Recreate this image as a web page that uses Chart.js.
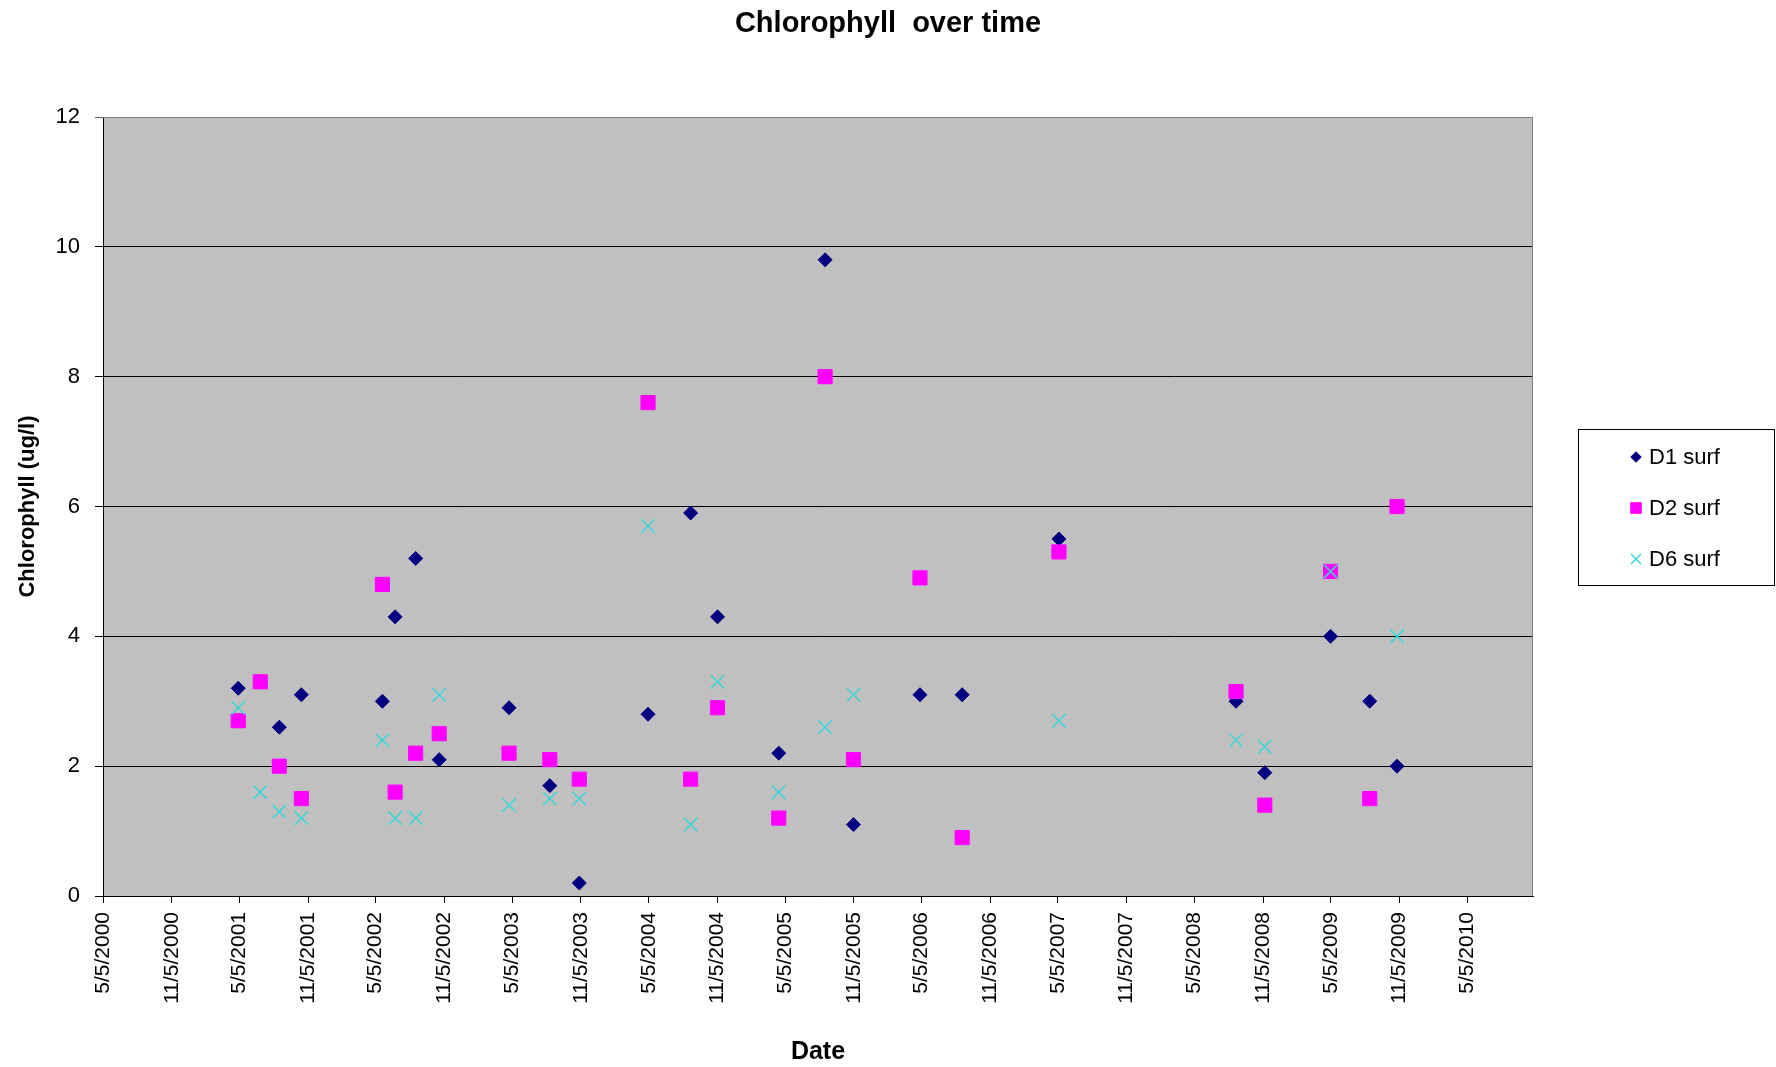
<!DOCTYPE html>
<html>
<head>
<meta charset="utf-8">
<script src="https://cdn.jsdelivr.net/npm/chart.js@4.4.1/dist/chart.umd.min.js"></script>
<style>
	body { margin: 0; background: #ffffff; }
	canvas { display: block; }
</style>
</head>
<body>
<canvas id="graficoClorofila" width="1776" height="1067"></canvas>
<script>
// Datas das coletas
var datasColeta = [
	"2001-05-02", "2001-06-30", "2001-08-20", "2001-10-18",
	"2002-05-23", "2002-06-26", "2002-08-20", "2002-10-22",
	"2003-04-27", "2003-08-14", "2003-11-01",
	"2004-05-03", "2004-08-25", "2004-11-05",
	"2005-04-18", "2005-08-20", "2005-11-04",
	"2006-05-01", "2006-08-22",
	"2007-05-08",
	"2008-08-24", "2008-11-09",
	"2009-05-04", "2009-08-17", "2009-10-29",
];

// Clorofila (ug/l) por estacao, null = sem medida
var d1Surf = [3.2, null, 2.6, 3.1, 3.0, 4.3, 5.2, 2.1, 2.9, 1.7, 0.2, 2.8, 5.9, 4.3, 2.2, 9.8, 1.1, 3.1, 3.1, 5.5, 3.0, 1.9, 4.0, 3.0, 2.0];
var d2Surf = [2.7, 3.3, 2.0, 1.5, 4.8, 1.6, 2.2, 2.5, 2.2, 2.1, 1.8, 7.6, 1.8, 2.9, 1.2, 8.0, 2.1, 4.9, 0.9, 5.3, 3.15, 1.4, 5.0, 1.5, 6.0];
var d6Surf = [2.9, 1.6, 1.3, 1.2, 2.4, 1.2, 1.2, 3.1, 1.4, 1.5, 1.5, 5.7, 1.1, 3.3, 1.6, 2.6, 3.1, null, null, 2.7, 2.4, 2.3, 5.0, null, 4.0];

var nomesSeries = ["D1 surf", "D2 surf", "D6 surf"];

// Rotulos do eixo X
var rotulosEixoX = [
	"5/5/2000", "11/5/2000", "5/5/2001", "11/5/2001", "5/5/2002", "11/5/2002",
	"5/5/2003", "11/5/2003", "5/5/2004", "11/5/2004", "5/5/2005", "11/5/2005",
	"5/5/2006", "11/5/2006", "5/5/2007", "11/5/2007", "5/5/2008", "11/5/2008",
	"5/5/2009", "11/5/2009", "5/5/2010",
];
var fimEixoX = "2010-10-28";

var fonte = "'Liberation Sans', Arial, sans-serif";
var inicio = Date.UTC(2000, 4, 5);

function diaIso(texto) {
	var p = texto.split("-");
	return (Date.UTC(+p[0], +p[1] - 1, +p[2]) - inicio) / 86400000;
}

function diaRotulo(texto) {
	var p = texto.split("/");
	return (Date.UTC(+p[2], +p[0] - 1, +p[1]) - inicio) / 86400000;
}

function rotuloDia(dia) {
	var d = new Date(inicio + dia * 86400000);
	return (d.getUTCMonth() + 1) + "/" + d.getUTCDate() + "/" + d.getUTCFullYear();
}

function montarPontos(valores) {
	var pontos = [];
	for (var i = 0; i < valores.length; i++) {
		if (valores[i] != null) {
			pontos.push({ x: diaIso(datasColeta[i]), y: valores[i] });
		}
	}
	return pontos;
}

// Fundo cinza e borda da area do grafico
var fundoPlugin = {
	id: "fundo",
	beforeDraw: function (chart) {
		var a = chart.chartArea;
		var ctx = chart.ctx;
		ctx.save();
		ctx.fillStyle = "#c0c0c0";
		ctx.fillRect(a.left, a.top, a.right - a.left, a.bottom - a.top);
		ctx.restore();
	},
	beforeDatasetsDraw: function (chart) {
		var a = chart.chartArea;
		var ctx = chart.ctx;
		ctx.save();
		ctx.strokeStyle = "#808080";
		ctx.lineWidth = 1;
		ctx.beginPath();
		ctx.moveTo(a.left, a.top + 0.5);
		ctx.lineTo(a.right - 0.5, a.top + 0.5);
		ctx.lineTo(a.right - 0.5, a.bottom);
		ctx.stroke();
		ctx.restore();
	},
};

// Legenda com caixa, desenhada a direita
var legendaPlugin = {
	id: "legendaCaixa",
	afterDraw: function (chart) {
		var ctx = chart.ctx;
		ctx.save();
		ctx.strokeStyle = "#000000";
		ctx.lineWidth = 1;
		ctx.strokeRect(1578.5, 429.5, 196, 156);

		var ys = [457, 508, 559];
		for (var i = 0; i < chart.data.datasets.length; i++) {
			var ds = chart.data.datasets[i];
			ctx.fillStyle = ds.backgroundColor;
			ctx.strokeStyle = ds.borderColor;
			ctx.lineWidth = ds.borderWidth;
			Chart.helpers.drawPoint(ctx, {
				pointStyle: ds.pointStyle,
				radius: ds.pointRadius * 0.75,
				borderWidth: ds.borderWidth,
				rotation: 0,
			}, 1636, ys[i]);

			ctx.fillStyle = "#000000";
			ctx.font = "22px " + fonte;
			ctx.textAlign = "left";
			ctx.textBaseline = "middle";
			ctx.fillText(ds.label, 1649, ys[i] + 1);
		}
		ctx.restore();
	},
};

var configClorofila = {
	type: "scatter",
	data: {
		datasets: [
			{
				label: nomesSeries[0],
				data: montarPontos(d1Surf),
				pointStyle: "rectRot",
				pointRadius: 7,
				backgroundColor: "#000080",
				borderColor: "#000080",
				borderWidth: 1,
				order: 3,
			},
			{
				label: nomesSeries[1],
				data: montarPontos(d2Surf),
				pointStyle: "rect",
				pointRadius: 10,
				backgroundColor: "#ff00ff",
				borderColor: "#ff00ff",
				borderWidth: 1,
				order: 2,
			},
			{
				label: nomesSeries[2],
				data: montarPontos(d6Surf),
				pointStyle: "crossRot",
				pointRadius: 9.5,
				backgroundColor: "#3cd6d6",
				borderColor: "#3cd6d6",
				borderWidth: 1.5,
				order: 1,
			},
		],
	},
	options: {
		responsive: false,
		animation: false,
		events: [],
		layout: {
			padding: 0,
		},
		plugins: {
			legend: { display: false },
			tooltip: { enabled: false },
			title: {
				display: true,
				text: "Chlorophyll  over time",
				color: "#000000",
				font: { family: fonte, size: 29, weight: "bold" },
				padding: { top: 7, bottom: 75.2 },
			},
		},
		scales: {
			x: {
				type: "linear",
				min: 0,
				max: diaIso(fimEixoX),
				afterFit: function (scale) {
					scale.height = 171;
				},
				afterBuildTicks: function (scale) {
					scale.ticks = rotulosEixoX.map(function (r) {
						return { value: diaRotulo(r) };
					});
				},
				ticks: {
					autoSkip: false,
					minRotation: 90,
					maxRotation: 90,
					padding: 9,
					color: "#000000",
					font: { family: fonte, size: 21 },
					callback: function (valor) {
						return rotuloDia(valor);
					},
				},
				grid: {
					drawOnChartArea: false,
					drawTicks: true,
					tickLength: 7,
					color: "#000000",
				},
				border: { display: true, color: "#000000", width: 1 },
				title: {
					display: true,
					text: "Date",
					color: "#000000",
					font: { family: fonte, size: 25, weight: "bold" },
					padding: { top: 0, bottom: 0 },
				},
			},
			y: {
				min: 0,
				max: 12,
				afterFit: function (scale) {
					scale.width = 103;
				},
				ticks: {
					stepSize: 2,
					padding: 15,
					color: "#000000",
					font: { family: fonte, size: 22 },
				},
				grid: {
					drawTicks: true,
					tickLength: 8,
					color: function (c) {
						return c.tick && c.tick.value == 12 ? "#606060" : "#000000";
					},
				},
				border: { display: true, color: "#000000", width: 1 },
				title: {
					display: true,
					text: "Chlorophyll (ug/l)",
					color: "#000000",
					font: { family: fonte, size: 22, weight: "bold" },
					padding: { top: 15, bottom: 0 },
				},
			},
			// eixo vazio so para reservar o espaco da legenda a direita
			espacoLegenda: {
				type: "linear",
				position: "right",
				afterFit: function (scale) {
					scale.width = 243;
				},
				ticks: { display: false },
				grid: { display: false },
				border: { display: false },
			},
		},
	},
	plugins: [fundoPlugin, legendaPlugin],
};

var graficoClorofila = new Chart(
	document.getElementById("graficoClorofila"),
	configClorofila,
);
</script>
</body>
</html>
